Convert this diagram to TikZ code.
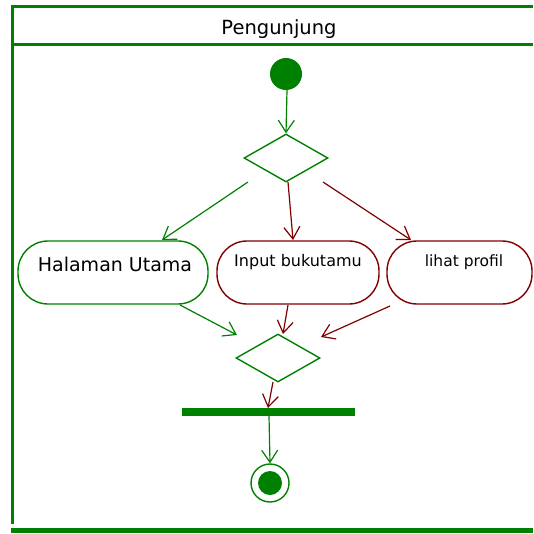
\documentclass[tikz,border=0pt]{standalone}
\usepackage{fontspec}
\setmainfont{DejaVu Sans}
\usetikzlibrary{arrows.meta,shapes.geometric}
\definecolor{umlgreen}{HTML}{008000}
\definecolor{umlred}{HTML}{800000}
\begin{document}
\begin{tikzpicture}[x=1pt,y=-1pt,
  lane/.style={draw=umlgreen,line width=3pt},
  act/.style={draw,rounded corners=30pt,line width=1.4pt,fill=white,inner sep=0pt},
  dec/.style={draw=umlgreen,line width=1.4pt,diamond,minimum width=84pt,minimum height=48pt,inner sep=0pt,aspect=1.75},
  flow/.style={line width=1.2pt,-{Straight Barb[length=12pt,width=16pt,line width=1.2pt]}},
  g/.style={umlgreen},
  r/.style={umlred}]
\useasboundingbox (0,0) rectangle (533,534);
% swimlane
\draw[lane] (12,5) -- (12,524);
\draw[lane] (10.5,6.5) -- (533,6.5);
\draw[lane] (10.5,44.5) -- (533,44.5);
\draw[draw=umlgreen,line width=5pt] (11,530.5) -- (533,530.5);
\node (lane) at (279,29) {\fontsize{19.5}{22}\selectfont Pengunjung};
% nodes
\node[circle,fill=umlgreen,minimum size=32pt,inner sep=0pt] (start) at (286,74) {};
\node[dec] (d1) at (286,158) {};
\node[act,draw=umlgreen,minimum width=190pt,minimum height=63pt] (hu) at (113,272.5) {};
\node at (115,264) {\fontsize{19}{22}\selectfont Halaman Utama};
\node[act,draw=umlred,minimum width=162pt,minimum height=63pt] (ib) at (298,272.5) {};
\node at (298,262) {\fontsize{16}{19}\selectfont Input bukutamu};
\node[act,draw=umlred,minimum width=145pt,minimum height=63pt] (lp) at (459.5,272.5) {};
\node at (464,262) {\fontsize{15.5}{19}\selectfont lihat profil};
\node[dec] (d2) at (278,358) {};
\node[fill=umlgreen,minimum width=173pt,minimum height=8pt,inner sep=0pt] (bar) at (268.5,412) {};
\node[circle,draw=umlgreen,line width=1.4pt,minimum size=38pt,inner sep=0pt] (end) at (270,483) {};
\node[circle,fill=umlgreen,minimum size=24pt,inner sep=0pt] (endin) at (270,483) {};
% connectors
\coordinate (s1) at (287,90);
\coordinate (d1b) at (248,182);
\coordinate (d1m) at (288,182);
\coordinate (d1r) at (323,182);
\coordinate (hut) at (162,240);
\coordinate (ibt) at (293,240);
\coordinate (lpt) at (411,240);
\draw[flow,g] (s1) -- (d1.north);
\draw[flow,g] (d1b) -- (hut);
\draw[flow,r] (d1m) -- (ibt);
\draw[flow,r] (d1r) -- (lpt);
\coordinate (hub) at (180,305);
\coordinate (ibb) at (288,305);
\coordinate (lpb) at (390,306);
\coordinate (d2l) at (237,335);
\coordinate (d2t) at (283,334);
\coordinate (d2r) at (321,337);
\draw[flow,g] (hub) -- (d2l);
\draw[flow,r] (ibb) -- (d2t);
\draw[flow,r] (lpb) -- (d2r);
\coordinate (d2b) at (273,382);
\coordinate (bart) at (268,408);
\draw[flow,r] (d2b) -- (bart);
\coordinate (barb) at (269,416);
\draw[flow,g] (barb) -- (end.north);
\end{tikzpicture}
\end{document}
